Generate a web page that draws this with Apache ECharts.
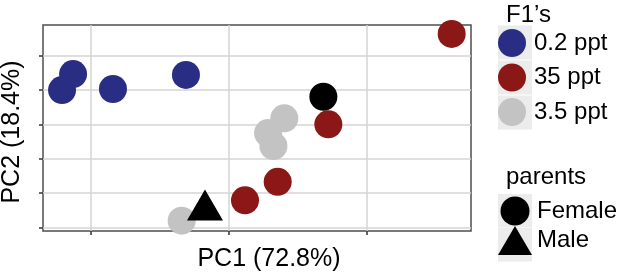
<!DOCTYPE html>
<html>
  <head>
    <title></title>
    <meta charset="UTF-8" />
    <script src="https://cdn.jsdelivr.net/npm/echarts@6/dist/echarts.min.js"></script>
  </head>
  <body style="margin:0">
    <div id="main"></div>
    <script>
      // PCA scores (PC1, PC2)
      const lowSalt = [[-12.1, 3.99], [-11.3, 4.92], [-8.41, 4.05], [-3.12, 4.87]];
      const highSalt = [[16.14, 7.25], [7.2, 2.0], [3.53, -1.34], [1.16, -2.42]];
      const midSalt = [[4.01, 2.35], [2.83, 1.49], [3.22, 0.74], [-3.43, -3.6]];
      const female = [[6.84, 3.6]];
      const male = [[-1.74, -2.69]];
      const xTicks = [-10, 0, 10];
      const yTicks = [-4, -2, 0, 2, 4, 6];
      const f1Names = ['0.2 ppt', '35 ppt', '3.5 ppt'];
      const parentNames = ['Female', 'Male'];

      const width = 617;
      const height = 275;
      const main = document.getElementById('main');
      main.style.width = `${width}px`;
      main.style.height = `${height}px`;

      const font = 'Liberation Sans';
      const keyBg = '#ececec';

      const myChart = echarts.init(main);
      const axisCommon = {
        type: 'value',
        axisLine: { show: false, onZero: false },
        axisLabel: { show: false },
        axisTick: {
          show: true,
          length: 4,
          lineStyle: { color: '#333', width: 1.5 },
        },
        splitLine: {
          show: true,
          lineStyle: { color: '#d4d4d4', width: 1.5 },
        },
        nameLocation: 'middle',
        nameTextStyle: { fontFamily: font, fontSize: 25, color: '#000' },
      };

      const option = {
        animation: false,
        textStyle: { fontFamily: font },
        grid: {
          left: 43,
          top: 25,
          width: 428,
          height: 206,
          containLabel: false,
          outerBoundsMode: 'none',
          show: true,
          borderColor: '#4d4d4d',
          borderWidth: 1.5,
          backgroundColor: '#fff',
        },
        xAxis: {
          ...axisCommon,
          min: -13.48,
          max: 17.54,
          name: 'PC1 (72.8%)',
          nameGap: 16,
          nameTextStyle: { ...axisCommon.nameTextStyle, padding: [0, 0, 0, 24] },
          axisTick: { ...axisCommon.axisTick, customValues: xTicks },
        },
        yAxis: {
          ...axisCommon,
          min: -4.2,
          max: 7.77,
          name: 'PC2 (18.4%)',
          nameGap: 18,
          nameTextStyle: { ...axisCommon.nameTextStyle, padding: [0, 8, 0, 0] },
          axisTick: { ...axisCommon.axisTick, customValues: yTicks },
        },
        title: [
          {
            text: 'F1\u2019s',
            left: 506,
            top: 3,
            padding: 0,
            textStyle: { fontFamily: font, fontSize: 24, fontWeight: 'normal', color: '#000' },
          },
          {
            text: 'parents',
            left: 506,
            top: 165,
            padding: 0,
            textStyle: { fontFamily: font, fontSize: 24, fontWeight: 'normal', color: '#000' },
          },
        ],
        graphic: [
          { type: 'rect', z: 0, shape: { x: 498, y: 25.5, width: 34, height: 34 }, style: { fill: keyBg } },
          { type: 'rect', z: 0, shape: { x: 498, y: 60.5, width: 34, height: 34 }, style: { fill: keyBg } },
          { type: 'rect', z: 0, shape: { x: 498, y: 95.5, width: 34, height: 34 }, style: { fill: keyBg } },
          { type: 'rect', z: 0, shape: { x: 498, y: 194, width: 34, height: 33.5 }, style: { fill: keyBg } },
          { type: 'rect', z: 0, shape: { x: 498, y: 228, width: 34, height: 33.5 }, style: { fill: keyBg } },
        ],
        legend: [
          {
            data: f1Names,
            orient: 'vertical',
            left: 498,
            top: 29,
            padding: 0,
            itemWidth: 34,
            itemHeight: 28,
            itemGap: 6.5,
            selectedMode: false,
            textStyle: { fontFamily: font, fontSize: 24, color: '#000' },
          },
          {
            data: parentNames,
            orient: 'vertical',
            left: 498,
            top: 196.5,
            padding: 0,
            itemWidth: 34,
            itemHeight: 29,
            itemGap: 0.5,
            symbolKeepAspect: false,
            selectedMode: false,
            textStyle: { fontFamily: font, fontSize: 24, color: '#000' },
          },
        ],
        series: [
          {
            name: '0.2 ppt',
            type: 'scatter',
            symbol: 'circle',
            symbolSize: 28,
            itemStyle: { color: '#2a2d84', opacity: 1 },
            data: lowSalt,
          },
          {
            name: '35 ppt',
            type: 'scatter',
            symbol: 'circle',
            symbolSize: 28,
            itemStyle: { color: '#8c1717', opacity: 1 },
            data: highSalt,
          },
          {
            name: '3.5 ppt',
            type: 'scatter',
            symbol: 'circle',
            symbolSize: 28,
            itemStyle: { color: '#c3c3c3', opacity: 1 },
            data: midSalt,
          },
          {
            name: 'Female',
            type: 'scatter',
            symbol: 'circle',
            symbolSize: 28,
            itemStyle: { color: '#000', opacity: 1 },
            data: female,
          },
          {
            name: 'Male',
            type: 'scatter',
            symbol: 'triangle',
            symbolSize: [36, 31],
            itemStyle: { color: '#000', opacity: 1 },
            data: male,
          },
        ],
      };
      myChart.setOption(option);
    </script>
  </body>
</html>
